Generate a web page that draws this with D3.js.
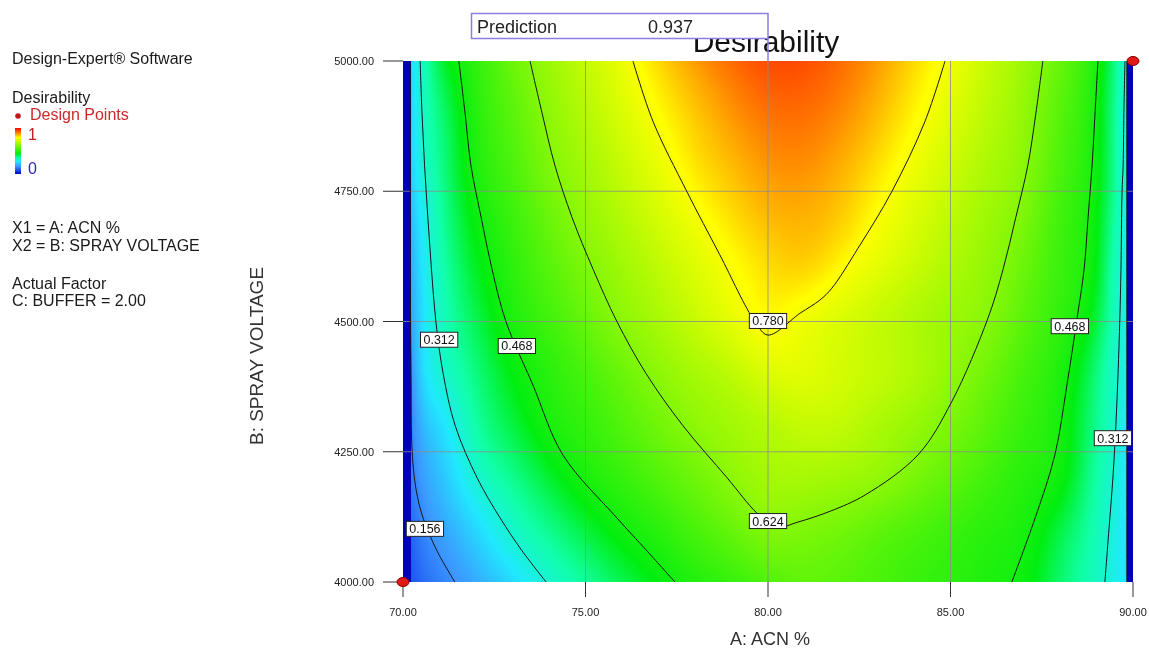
<!DOCTYPE html>
<html>
<head>
<meta charset="utf-8">
<script src="https://cdn.jsdelivr.net/npm/d3@7"></script>
<style>
  html, body { margin: 0; padding: 0; background: #fff; }
  #wrap { position: relative; width: 1149px; height: 648px; overflow: hidden; background: #fff; }
  #wrap canvas { position: absolute; }
  #wrap svg { position: absolute; left: 0; top: 0; }
  text { font-family: "Liberation Sans", Arial, sans-serif; }
</style>
</head>
<body>
<div id="wrap"></div>
<script>
// ---- Factor settings ----
// A: ACN % sample positions (dense near the range ends where desirability drops to zero)
const acnLevels = [70, 70.2, 70.25, 70.5, 71, 72, 73, 74, 75, 76, 77, 78, 79, 80,
                   81, 82, 83, 84, 85, 86, 87, 88, 89, 89.5, 89.8, 89.85, 90];
// B: SPRAY VOLTAGE sample positions
const voltageLevels = [4000, 4100, 4200, 4300, 4400, 4500, 4600, 4700, 4800, 4900, 5000];

// ---- Desirability at each (ACN %, voltage) node, one row per voltage ----
const d4000 = [0, 0, 0.09, 0.11, 0.14, 0.194, 0.255, 0.314, 0.358, 0.402, 0.446, 0.484, 0.515, 0.548, 0.572, 0.562, 0.542, 0.52, 0.50, 0.481, 0.455, 0.387, 0.326, 0.29, 0.26, 0, 0];
const d4100 = [0, 0, 0.11, 0.14, 0.179, 0.25, 0.318, 0.366, 0.413, 0.46, 0.497, 0.54, 0.58, 0.618, 0.614, 0.598, 0.572, 0.547, 0.522, 0.497, 0.473, 0.41, 0.337, 0.295, 0.265, 0, 0];
const d4200 = [0, 0, 0.14, 0.172, 0.218, 0.309, 0.365, 0.42, 0.473, 0.512, 0.552, 0.591, 0.632, 0.664, 0.668, 0.658, 0.64, 0.606, 0.568, 0.53, 0.493, 0.455, 0.35, 0.305, 0.27, 0, 0];
const d4300 = [0, 0, 0.15, 0.2, 0.255, 0.348, 0.41, 0.471, 0.51, 0.551, 0.594, 0.633, 0.662, 0.688, 0.708, 0.703, 0.675, 0.645, 0.608, 0.562, 0.516, 0.469, 0.365, 0.315, 0.275, 0, 0];
const d4400 = [0, 0, 0.17, 0.24, 0.305, 0.374, 0.443, 0.496, 0.54, 0.586, 0.632, 0.668, 0.70, 0.74, 0.748, 0.73, 0.706, 0.68, 0.64, 0.592, 0.536, 0.48, 0.377, 0.318, 0.29, 0, 0];
const d4500 = [0, 0, 0.19, 0.25, 0.32, 0.401, 0.477, 0.528, 0.58, 0.63, 0.67, 0.712, 0.754, 0.788, 0.768, 0.74, 0.71, 0.681, 0.653, 0.624, 0.563, 0.505, 0.41, 0.33, 0.29, 0, 0];
const d4600 = [0, 0, 0.2, 0.26, 0.333, 0.427, 0.50, 0.557, 0.612, 0.657, 0.70, 0.742, 0.783, 0.815, 0.822, 0.79, 0.751, 0.714, 0.677, 0.64, 0.585, 0.52, 0.435, 0.336, 0.295, 0, 0];
const d4700 = [0, 0, 0.22, 0.275, 0.346, 0.453, 0.522, 0.585, 0.641, 0.686, 0.731, 0.775, 0.815, 0.845, 0.852, 0.83, 0.785, 0.741, 0.699, 0.657, 0.61, 0.529, 0.445, 0.352, 0.30, 0, 0];
const d4800 = [0, 0, 0.245, 0.30, 0.362, 0.477, 0.545, 0.613, 0.664, 0.712, 0.761, 0.81, 0.845, 0.875, 0.88, 0.855, 0.815, 0.768, 0.722, 0.676, 0.63, 0.546, 0.455, 0.36, 0.30, 0, 0];
const d4900 = [0, 0, 0.25, 0.31, 0.375, 0.49, 0.564, 0.634, 0.687, 0.739, 0.79, 0.835, 0.875, 0.905, 0.908, 0.885, 0.845, 0.797, 0.747, 0.695, 0.642, 0.56, 0.46, 0.361, 0.30, 0, 0];
const d5000 = [0, 0, 0.26, 0.315, 0.405, 0.506, 0.586, 0.653, 0.708, 0.763, 0.82, 0.87, 0.91, 0.937, 0.935, 0.91, 0.87, 0.82, 0.771, 0.713, 0.655, 0.58, 0.472, 0.371, 0.305, 0, 0];
const desirability = [d4000, d4100, d4200, d4300, d4400, d4500, d4600, d4700, d4800, d4900, d5000];

// ---- Contour lines as traced (ACN %, voltage) points ----
const c156L = [[70.2, 5000], [70.2, 4600], [70.22, 4400], [70.25, 4251], [70.36, 4177], [70.55, 4123], [70.93, 4060], [71.42, 4000]];
const c156R = [[89.83, 5000], [89.83, 4500], [89.83, 4000]];
const c312L = [[70.47, 5000], [70.52, 4900], [70.59, 4800], [70.68, 4700], [70.78, 4600], [70.90, 4500], [71.10, 4400],
               [71.43, 4300], [72.03, 4200], [72.66, 4123], [73.26, 4060], [73.92, 4000]];
const c468L = [[71.53, 5000], [71.70, 4900], [71.86, 4800], [72.14, 4700], [72.44, 4600], [72.82, 4500], [73.56, 4378],
               [74.38, 4244], [75.86, 4123], [76.68, 4060], [77.45, 4000]];
const c624 = [[73.48, 5000], [73.81, 4900], [74.16, 4800], [74.63, 4700], [75.21, 4600], [75.86, 4500], [76.66, 4400],
              [77.67, 4300], [78.88, 4200], [79.70, 4132], [80.22, 4105], [80.82, 4115], [81.71, 4136], [82.66, 4167],
              [84.11, 4244], [85.04, 4347], [86.03, 4507], [86.44, 4600], [86.79, 4700], [87.12, 4800], [87.34, 4900], [87.53, 5000]];
const c780 = [[76.30, 5000], [76.85, 4884], [77.78, 4749], [78.68, 4628], [79.64, 4500], [80.0, 4474], [80.88, 4516],
              [81.42, 4541], [81.75, 4564], [82.47, 4641], [83.39, 4749], [84.30, 4884], [84.85, 5000]];
const c468R = [[89.04, 5000], [88.96, 4900], [88.88, 4800], [88.77, 4700], [88.66, 4600], [88.47, 4507], [88.19, 4378],
               [87.86, 4244], [87.32, 4123], [86.68, 4000]];
const c312R = [[89.78, 5000], [89.75, 4900], [89.73, 4800], [89.70, 4749], [89.67, 4600], [89.64, 4507], [89.59, 4400],
               [89.53, 4300], [89.45, 4200], [89.34, 4100], [89.23, 4000]];
const contourLines = [c156L, c156R, c312L, c312R, c468L, c468R, c624, c780];

// Tick values
const xTicks = [70, 75, 80, 85, 90];
const yTicks = [4000, 4250, 4500, 4750, 5000];

// Design points (A, B)
const designA = [70, 90];
const designB = [4000, 5000];

// Flagged prediction point
const predA = 80, predB = 5000;

// Contour value tags (level, A, B)
const labelSpots = [
  { level: 0.156, a: 70.60, b: 4102 },
  { level: 0.312, a: 70.99, b: 4465 },
  { level: 0.468, a: 73.12, b: 4453 },
  { level: 0.780, a: 80.00, b: 4501 },
  { level: 0.624, a: 80.00, b: 4117 },
  { level: 0.468, a: 88.27, b: 4491 },
  { level: 0.312, a: 89.45, b: 4276 }
];

// Colour ramp: blue (0) -> cyan -> green -> yellow -> red (1)
const colorStops = [0, 0.08, 0.17, 0.27, 0.35, 0.44, 0.79, 0.88, 1];
const colorRange = ["#0000b8", "#1a50f0", "#3c98ff", "#20e8ff", "#10ffa8", "#00ee10", "#ffff00", "#ff9000", "#ff0000"];

// ---- Layout ----
const plotLeft = 403, plotTop = 61, W = 730, H = 521;
const x = d3.scaleLinear().domain([70, 90]).range([0, W]);
const y = d3.scaleLinear().domain([4000, 5000]).range([H, 0]);
const color = d3.scaleLinear().domain(colorStops).range(colorRange).interpolate(d3.interpolateRgb).clamp(true);

// Natural cubic spline through the sampled nodes
function spline(xs, ys) {
  const n = xs.length - 1, h = [], al = [];
  for (let i = 0; i < n; i++) h[i] = xs[i + 1] - xs[i];
  for (let i = 1; i < n; i++) al[i] = 3 / h[i] * (ys[i + 1] - ys[i]) - 3 / h[i - 1] * (ys[i] - ys[i - 1]);
  const l = [1], mu = [0], z = [0];
  for (let i = 1; i < n; i++) {
    l[i] = 2 * (xs[i + 1] - xs[i - 1]) - h[i - 1] * mu[i - 1];
    mu[i] = h[i] / l[i];
    z[i] = (al[i] - h[i - 1] * z[i - 1]) / l[i];
  }
  const c = new Array(n + 1).fill(0), b = [], d = [];
  for (let j = n - 1; j >= 0; j--) {
    c[j] = z[j] - mu[j] * c[j + 1];
    b[j] = (ys[j + 1] - ys[j]) / h[j] - h[j] * (c[j + 1] + 2 * c[j]) / 3;
    d[j] = (c[j + 1] - c[j]) / (3 * h[j]);
  }
  return v => {
    const k = Math.max(0, Math.min(n - 1, d3.bisectRight(xs, v) - 1));
    const t = v - xs[k];
    return ys[k] + b[k] * t + c[k] * t * t + d[k] * t * t * t;
  };
}

// Along ACN %: smooth inside the feasible band, zero in the end strips
function rowProfile(row) {
  const first = row.findIndex(v => v > 0);
  const last = row.length - 1 - [...row].reverse().findIndex(v => v > 0);
  const lo = (acnLevels[first - 1] + acnLevels[first]) / 2;
  const hi = (acnLevels[last] + acnLevels[last + 1]) / 2;
  const f = spline(acnLevels.slice(first, last + 1), row.slice(first, last + 1));
  return a => (a < lo || a > hi) ? 0 : f(a);
}

// Evaluate the surface at every pixel centre of the plot
const colA = d3.range(W).map(i => x.invert(i + 0.5));
const rowB = d3.range(H).map(j => y.invert(j + 0.5));
const rowsAtCols = desirability.map(row => colA.map(rowProfile(row)));
const field = new Float64Array(W * H);
for (let i = 0; i < W; i++) {
  const f = spline(voltageLevels, rowsAtCols.map(r => r[i]));
  for (let j = 0; j < H; j++) field[j * W + i] = Math.max(0, Math.min(1, f(rowB[j])));
}

const wrap = d3.select("#wrap");

// ---- Shaded surface ----
const canvas = wrap.append("canvas")
  .attr("width", W).attr("height", H)
  .style("left", plotLeft + "px").style("top", plotTop + "px");
const ctx = canvas.node().getContext("2d");
const img = ctx.createImageData(W, H);
const lut = d3.range(1001).map(k => d3.rgb(color(k / 1000)));
for (let p = 0; p < W * H; p++) {
  const c = lut[Math.round(field[p] * 1000)];
  img.data[4 * p] = c.r; img.data[4 * p + 1] = c.g; img.data[4 * p + 2] = c.b; img.data[4 * p + 3] = 255;
}
ctx.putImageData(img, 0, 0);

// ---- Overlay ----
const svg = wrap.append("svg").attr("width", 1149).attr("height", 648);
const defs = svg.append("defs");
defs.append("clipPath").attr("id", "plotArea")
  .append("rect").attr("x", 0).attr("y", 0).attr("width", W).attr("height", H);

const plot = svg.append("g").attr("transform", `translate(${plotLeft},${plotTop})`);

// Grid lines
plot.append("g").selectAll("line").data(xTicks.slice(1, -1)).join("line")
  .attr("x1", d => x(d)).attr("x2", d => x(d)).attr("y1", 0).attr("y2", H)
  .attr("stroke", "#8c8c8c").attr("stroke-opacity", 0.8).attr("stroke-width", 1);
plot.append("g").selectAll("line").data(yTicks.slice(1, -1)).join("line")
  .attr("y1", d => y(d)).attr("y2", d => y(d)).attr("x1", 0).attr("x2", W)
  .attr("stroke", "#8c8c8c").attr("stroke-opacity", 0.8).attr("stroke-width", 1);

// Contour lines
const line = d3.line().x(d => x(d[0])).y(d => y(d[1])).curve(d3.curveCatmullRom.alpha(0.5));
plot.append("g").attr("clip-path", "url(#plotArea)")
  .selectAll("path").data(contourLines).join("path")
  .attr("d", line)
  .attr("fill", "none").attr("stroke", "#151515").attr("stroke-width", 1);

// Contour value tags
const fmt3 = d3.format(".3f");
const tags = plot.append("g").selectAll("g").data(labelSpots).join("g")
  .attr("transform", d => `translate(${x(d.a)},${y(d.b)})`);
tags.each(function (d) {
  const g = d3.select(this);
  const t = g.append("text").text(fmt3(d.level))
    .attr("text-anchor", "middle").attr("y", 4.5)
    .attr("font-size", 12.5).attr("fill", "#111");
  const w = t.node().getComputedTextLength() + 6;
  g.insert("rect", "text")
    .attr("x", -w / 2).attr("y", -7.5).attr("width", w).attr("height", 15)
    .attr("fill", "#fff").attr("stroke", "#222").attr("stroke-width", 1);
});

// Axes: ticks and labels
const axisG = plot.append("g");
axisG.selectAll(".xt").data(xTicks).join("line")
  .attr("x1", d => x(d)).attr("x2", d => x(d)).attr("y1", H).attr("y2", H + 15)
  .attr("stroke", "#333").attr("stroke-width", 1);
axisG.selectAll(".xl").data(xTicks).join("text")
  .attr("x", d => x(d)).attr("y", H + 34).attr("text-anchor", "middle")
  .attr("font-size", 11).attr("fill", "#222").text(d => d3.format(".2f")(d));
axisG.selectAll(".yt").data(yTicks).join("line")
  .attr("x1", -20).attr("x2", 0).attr("y1", d => y(d)).attr("y2", d => y(d))
  .attr("stroke", "#333").attr("stroke-width", 1);
axisG.selectAll(".yl").data(yTicks).join("text")
  .attr("x", -29).attr("y", d => y(d) + 4).attr("text-anchor", "end")
  .attr("font-size", 11).attr("fill", "#222").text(d => d3.format(".2f")(d));

// Axis titles
svg.append("text").attr("x", plotLeft + W / 2 + 2).attr("y", 645).attr("text-anchor", "middle")
  .attr("font-size", 18).attr("fill", "#333").text("A: ACN %");
svg.append("text").attr("transform", "translate(263,356) rotate(-90)").attr("text-anchor", "middle")
  .attr("font-size", 19).attr("fill", "#333").text("B: SPRAY VOLTAGE");

// Chart title
svg.append("text").attr("x", 766).attr("y", 52).attr("text-anchor", "middle")
  .attr("font-size", 30).attr("fill", "#111").text("Desirability");

// Prediction flag at the chosen setting
const predValue = desirability[voltageLevels.indexOf(predB)][acnLevels.indexOf(predA)];
const px = plotLeft + x(predA), py = plotTop + y(predB);
svg.append("rect").attr("x", 471.5).attr("y", 13.5).attr("width", px - 471.5).attr("height", 25)
  .attr("fill", "#fff").attr("stroke", "#8a80e0").attr("stroke-width", 1.5);
svg.append("line").attr("x1", px).attr("x2", px).attr("y1", 38.5).attr("y2", py)
  .attr("stroke", "#8a80e0").attr("stroke-width", 1.5);
svg.append("text").attr("x", 477).attr("y", 33).attr("font-size", 18).attr("fill", "#222").text("Prediction");
svg.append("text").attr("x", 648).attr("y", 33).attr("font-size", 18).attr("fill", "#222").text(fmt3(predValue));

// Design points
plot.append("g").selectAll("ellipse").data(designA).join("ellipse")
  .attr("cx", d => x(d)).attr("cy", (d, i) => y(designB[i]))
  .attr("rx", 6).attr("ry", 4.5)
  .attr("fill", "#e01818").attr("stroke", "#8a0000").attr("stroke-width", 1);

// ---- Side panel ----
const side = svg.append("g").attr("fill", "#1a1a1a").attr("font-size", 16);
side.append("text").attr("x", 12).attr("y", 64).text("Design-Expert\u00AE Software");
side.append("text").attr("x", 12).attr("y", 103).text("Desirability");
side.append("circle").attr("cx", 18).attr("cy", 116).attr("r", 2.8).attr("fill", "#c01818");
side.append("text").attr("x", 30).attr("y", 120).attr("fill", "#cc2a2a").text("Design Points");

const grad = defs.append("linearGradient").attr("id", "ramp")
  .attr("x1", 0).attr("y1", 1).attr("x2", 0).attr("y2", 0);
grad.selectAll("stop").data(colorStops).join("stop")
  .attr("offset", d => d).attr("stop-color", d => color(d));
side.append("rect").attr("x", 15).attr("y", 128).attr("width", 6).attr("height", 46).attr("fill", "url(#ramp)");
side.append("text").attr("x", 28).attr("y", 140).attr("fill", "#c02020").text("1");
side.append("text").attr("x", 28).attr("y", 174).attr("fill", "#2a2ab8").text("0");

side.append("text").attr("x", 12).attr("y", 233).text("X1 = A: ACN %");
side.append("text").attr("x", 12).attr("y", 251).text("X2 = B: SPRAY VOLTAGE");
side.append("text").attr("x", 12).attr("y", 289).text("Actual Factor");
side.append("text").attr("x", 12).attr("y", 306).text("C: BUFFER = 2.00");
</script>
</body>
</html>
